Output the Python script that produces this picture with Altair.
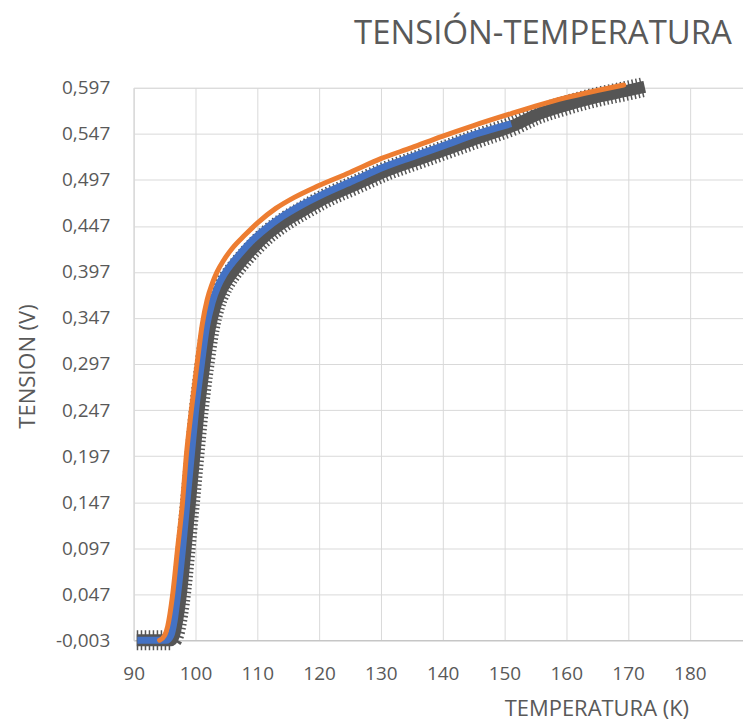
import altair as alt
import pandas as pd

# Orange series (T in K, V in volts)
orange_t = [94.2, 95.0, 95.5, 96.3, 97.1, 97.9, 98.5, 99.3, 100.2, 101.1, 101.9, 102.7, 103.5,
            104.6, 106.0, 108.0, 110.0, 113.0, 116.0, 119.7, 125.0, 130.0, 135.0, 139.8, 145.0,
            151.1, 155.0, 159.8, 165.0, 169.3]
orange_v = [-0.003, 0.002, 0.012, 0.046, 0.096, 0.146, 0.196, 0.245, 0.294, 0.340, 0.367, 0.384, 0.397,
            0.410, 0.423, 0.437, 0.450, 0.466, 0.478, 0.490, 0.505, 0.520, 0.532, 0.544, 0.556,
            0.569, 0.577, 0.586, 0.594, 0.600]

# Blue series
blue_t = [90.6, 95.3, 96.0, 96.6, 97.1, 97.9, 98.6, 99.3, 100.0, 100.9, 101.8, 102.7, 103.6, 104.6,
          106.0, 107.5, 109.0, 111.0, 114.0, 117.0, 120.5, 125.5, 130.5, 135.5, 140.5, 145.5, 151.1]
blue_v = [-0.003, -0.003, 0.002, 0.020, 0.046, 0.096, 0.146, 0.196, 0.245, 0.294, 0.338, 0.364, 0.381, 0.394,
          0.407, 0.419, 0.430, 0.442, 0.457, 0.469, 0.481, 0.496, 0.511, 0.523, 0.535, 0.547, 0.558]

# Gray (measured points) series
gray_t = [90.5, 96.0, 96.6, 97.2, 97.7, 98.4, 99.1, 99.8, 100.5, 101.4, 102.3, 103.2, 104.2, 105.2,
          106.5, 108.0, 109.5, 111.5, 114.5, 117.5, 121.0, 126.0, 131.0, 136.0, 141.0, 146.0,
          151.5, 155.0, 160.0, 165.0, 170.0, 172.7]
gray_v = [-0.003, -0.003, 0.004, 0.025, 0.050, 0.096, 0.146, 0.196, 0.245, 0.294, 0.335, 0.360, 0.377, 0.389,
          0.401, 0.413, 0.424, 0.437, 0.452, 0.464, 0.477, 0.492, 0.507, 0.519, 0.531, 0.543,
          0.556, 0.567, 0.578, 0.587, 0.594, 0.598]

y_ticks = [round(-0.003 + 0.05 * i, 3) for i in range(13)]
x_ticks = [90, 100, 110, 120, 130, 140, 150, 160, 170, 180]

df_o = pd.DataFrame({"T": orange_t, "V": orange_v, "i": range(len(orange_t))})
df_b = pd.DataFrame({"T": blue_t, "V": blue_v, "i": range(len(blue_t))})
df_g = pd.DataFrame({"T": gray_t, "V": gray_v, "i": range(len(gray_t))})

FONT = "Open Sans"
TXT = "#595959"

xs = alt.Scale(domain=[90, 188.6], nice=False, zero=False)
ys = alt.Scale(domain=[-0.003, 0.597], nice=False, zero=False)

x_axis = alt.Axis(values=x_ticks, title="TEMPERATURA (K)", labelPadding=24, tickSize=0,
                  domainColor="#bfbfbf", gridColor="#d9d9d9", labelColor=TXT, titleColor=TXT,
                  labelFont=FONT, titleFont=FONT, labelFontSize=19, titleFontSize=22,
                  titleFontWeight="normal", titleX=464, titleY=75, titleAlign="center",
                  titleBaseline="alphabetic", labelFlush=False)
y_axis = alt.Axis(values=y_ticks, title="TENSION (V)", labelPadding=24, tickSize=0,
                  labelExpr="replace(replace(format(datum.value, '.3f'), '.', ','), '\u2212', '-')",
                  domainColor="#d9d9d9", gridColor="#d9d9d9", labelColor=TXT, titleColor=TXT,
                  labelFont=FONT, titleFont=FONT, labelFontSize=19, titleFontSize=22,
                  titleFontWeight="normal", titleX=-99, titleY=279, titleAlign="center",
                  titleBaseline="alphabetic", titleAngle=-90)

base_x = alt.X("T:Q", scale=xs, axis=x_axis)
base_y = alt.Y("V:Q", scale=ys, axis=y_axis)

gray_stubs = alt.Chart(df_g).mark_line(color="#555555", strokeWidth=20, strokeDash=[1.5, 2.5],
                                       strokeCap="butt", interpolate="monotone").encode(
    x=base_x, y=base_y, order="i:Q")
gray_band = alt.Chart(df_g).mark_line(color="#555555", strokeWidth=12, strokeJoin="round",
                                      strokeCap="butt", interpolate="monotone").encode(
    x="T:Q", y="V:Q", order="i:Q")
blue = alt.Chart(df_b).mark_line(color="#4472C4", strokeWidth=7, strokeJoin="round",
                                 strokeCap="butt", interpolate="monotone").encode(
    x="T:Q", y="V:Q", order="i:Q")
orange = alt.Chart(df_o).mark_line(color="#ED7D31", strokeWidth=5, strokeJoin="round",
                                   strokeCap="round", interpolate="monotone").encode(
    x="T:Q", y="V:Q", order="i:Q")

chart = alt.layer(gray_stubs, gray_band, blue, orange).properties(
    width=611, height=554,
    autosize=alt.AutoSizeParams(type="none"),
    padding={"left": 126, "top": 79, "right": 0, "bottom": 87},
    title=alt.TitleParams("TENSIÓN-TEMPERATURA", anchor="start", frame="group", font=FONT,
                          fontSize=33, fontWeight="normal", color=TXT, dx=221, dy=38, offset=34),
).configure_view(stroke=None).configure(background="white")

chart.save("out.html", embed_options={"renderer": "svg", "actions": False})
